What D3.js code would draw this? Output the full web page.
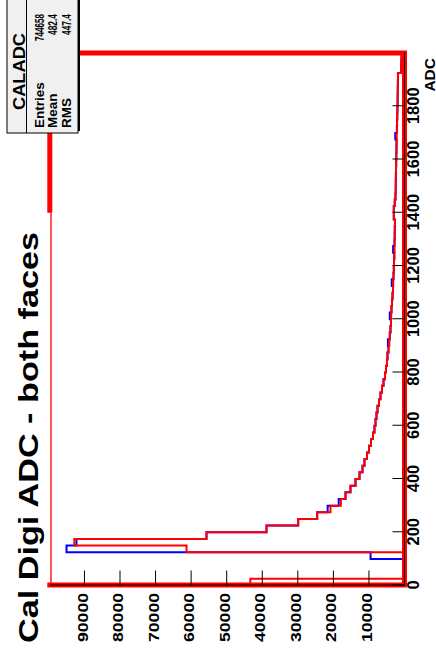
<!DOCTYPE html>
<html>
<head>
<meta charset="utf-8">
<script src="https://cdn.jsdelivr.net/npm/d3@7"></script>
<style>
body{margin:0;background:#fff;}
svg text{font-family:"Liberation Sans",Arial,Helvetica,sans-serif;font-weight:bold;fill:#000;}
</style>
</head>
<body>
<div id="chart"></div>
<script>
// ROOT canvas, drawn landscape and turned 90deg (like the printout)
const W = 436, H = 657;

// bins of 25 ADC, 0..2000
const adcBinLow = [0,25,50,75,100,125,150,175,200,225,250,275,300,325,350,375,400,425,450,475,
  500,525,550,575,600,625,650,675,700,725,750,775,800,825,850,875,900,925,950,975,
  1000,1025,1050,1075,1100,1125,1150,1175,1200,1225,1250,1275,1300,1325,1350,1375,1400,1425,1450,1475,
  1500,1525,1550,1575,1600,1625,1650,1675,1700,1725,1750,1775,1800,1825,1850,1875,1900,1925,1950,1975];
const binWidth = 25;

// red histo (drawn on top)
const countsRed = [43200,0,0,0,0,61160,92700,55540,38670,29750,
  24410,20670,17760,16450,15050,13640,12510,11670,11110,10400,
  9840,9280,8720,8300,8010,7730,7450,7030,6610,6190,
  5760,5340,5060,4780,4640,4360,4130,3990,3800,3660,
  3600,3520,3370,3230,3090,3040,2950,2870,2810,2730,
  2670,2670,2620,2590,2530,2870,2870,2600,2390,2330,
  2310,2280,2250,2200,2160,2120,2100,2060,2000,1950,
  1900,1850,1800,1780,1750,1720,1700,800,750,700];
// blue histo (mostly hidden under the red one)
const countsBlue = [0,0,0,0,9400,94900,92100,55540,38670,29750,
  24410,21470,18360,16450,15050,13640,12510,11670,11110,10400,
  9840,9280,8720,8300,8010,7730,7450,7030,6610,6190,
  5760,5340,5060,4780,4640,4360,4530,3990,3800,3660,
  4000,3520,3370,3230,3090,3440,2950,2870,2810,2730,
  3070,2670,2620,2590,2530,2870,2870,2600,2390,2330,
  2310,2280,2250,2200,2160,2120,2100,2460,2000,1950,
  1900,1850,1800,1780,1750,1720,1700,800,750,700];

const adcTickLabels = [0,200,400,600,800,1000,1200,1400,1600,1800];
const countTickLabels = [0,10000,20000,30000,40000,50000,60000,70000,80000,90000];

const titleText = 'Cal Digi ADC - both faces';
const statName = 'CALADC';
const statLabels = ['Entries','Mean','RMS'];
const statValues = ['744658','482.4','447.4'];

const svg = d3.select('#chart').append('svg')
  .attr('width', W).attr('height', H);

// everything below is in the un-rotated canvas: u = ADC direction, v = counts direction (down)
const canvas = svg.append('g')
  .attr('transform', `translate(0,${H}) rotate(-90)`);

const frame = {l:71.5, r:604, t:49.8, b:404};

const x = d3.scaleLinear().domain([0,2000]).range([frame.l, frame.r]);
const y = d3.scaleLinear().domain([0,99600]).range([frame.b, frame.t]);

canvas.append('clipPath').attr('id','frameClip')
  .append('rect')
  .attr('x', frame.l).attr('y', frame.t)
  .attr('width', frame.r-frame.l).attr('height', frame.b-frame.t);

function histPoints(counts){
  const pts = [[adcBinLow[0], 0]];
  counts.forEach(function(c, i){
    pts.push([adcBinLow[i], c]);
    pts.push([adcBinLow[i]+binWidth, c]);
  });
  pts.push([adcBinLow[adcBinLow.length-1]+binWidth, 0]);
  return pts;
}

const line = d3.line()
  .x(function(d){ return x(d[0]); })
  .y(function(d){ return y(d[1]); });

const plot = canvas.append('g').attr('clip-path','url(#frameClip)');

plot.append('path')
  .datum(histPoints(countsBlue))
  .attr('d', line)
  .attr('fill','none')
  .attr('stroke','#0000ff')
  .attr('stroke-width',2);

plot.append('path')
  .datum(histPoints(countsRed))
  .attr('d', line)
  .attr('fill','none')
  .attr('stroke','#ff0000')
  .attr('stroke-width',2);

// red frame (thin along the top of the counts range, thick elsewhere)
const uBreak = x(1400);
canvas.append('path')
  .attr('d', `M${frame.l},${frame.t+1.2} L${uBreak},${frame.t+1.2}`)
  .attr('fill','none').attr('stroke','#ff2020').attr('stroke-width',1.5);
canvas.append('path')
  .attr('d', `M${uBreak},${frame.t} L${frame.r},${frame.t} L${frame.r},${frame.b+0.5} L${frame.l+0.5},${frame.b+0.5} L${frame.l+0.5},${frame.t-2.5}`)
  .attr('fill','none').attr('stroke','#ff0000').attr('stroke-width',5)
  .attr('stroke-linejoin','miter');

// ADC axis
const xAxisG = canvas.append('g').attr('transform', `translate(0,${frame.b})`);
xAxisG.call(d3.axisBottom(x)
  .tickValues(d3.range(0, 2001, 50))
  .tickSizeInner(-6.5).tickSizeOuter(0)
  .tickFormat(''));
xAxisG.call(d3.axisBottom(x)
  .tickValues(adcTickLabels)
  .tickSizeInner(-11.5).tickSizeOuter(0)
  .tickPadding(3)
  .tickFormat(d3.format('d')));
xAxisG.selectAll('text').style('font-size','16.5px');

// counts axis
const yAxisG = canvas.append('g').attr('transform', `translate(${frame.l},0)`);
yAxisG.call(d3.axisLeft(y)
  .tickValues(d3.range(0, 99000, 2000))
  .tickSizeInner(-7.5).tickSizeOuter(0)
  .tickFormat(''));
yAxisG.call(d3.axisLeft(y)
  .tickValues(countTickLabels)
  .tickSizeInner(-15).tickSizeOuter(0)
  .tickPadding(7.5)
  .tickFormat(function(d){ return d === 0 ? '' : d3.format('d')(d); }));
yAxisG.selectAll('text')
  .style('font-size','15.5px')
  .attr('dy','0.2em')
  .attr('textLength', function(){ return this.textContent ? 49 : null; })
  .attr('lengthAdjust','spacingAndGlyphs');

canvas.selectAll('.domain').attr('stroke','#000').attr('stroke-width',1);
canvas.selectAll('.tick line').attr('stroke','#000').attr('stroke-width',1);

// axis title
canvas.append('text')
  .attr('x', 599).attr('y', 434.5)
  .attr('text-anchor','end')
  .style('font-size','15.5px')
  .text('ADC');

// main title
canvas.append('text')
  .attr('x', 14).attr('y', 38)
  .style('font-size','28px')
  .attr('textLength', 411).attr('lengthAdjust','spacingAndGlyphs')
  .text(titleText);

// stat box
const box = {u0:524, u1:660, v0:7, v1:78};
canvas.append('rect')
  .attr('x', box.u0+2).attr('y', box.v0+2)
  .attr('width', box.u1-box.u0).attr('height', box.v1-box.v0)
  .attr('fill','#000');
canvas.append('rect')
  .attr('x', box.u0).attr('y', box.v0)
  .attr('width', box.u1-box.u0).attr('height', box.v1-box.v0)
  .attr('fill','#f0f0f0').attr('stroke','#000').attr('stroke-width',1);
canvas.append('line')
  .attr('x1', box.u0).attr('x2', box.u1)
  .attr('y1', 26.5).attr('y2', 26.5)
  .attr('stroke','#000');
canvas.append('text')
  .attr('x', 585.5).attr('y', 24.5)
  .attr('text-anchor','middle')
  .style('font-size','17px')
  .attr('textLength', 77).attr('lengthAdjust','spacingAndGlyphs')
  .text(statName);

const rowBase = [44, 57, 70.5];
const valueLen = [27, 21, 21];
canvas.selectAll('.statLabel').data(statLabels).enter()
  .append('text').attr('class','statLabel')
  .attr('x', 529).attr('y', function(d,i){ return rowBase[i]; })
  .style('font-size','13.5px')
  .text(function(d){ return d; });
canvas.selectAll('.statValue').data(statValues).enter()
  .append('text').attr('class','statValue')
  .attr('x', 643).attr('y', function(d,i){ return rowBase[i]; })
  .attr('text-anchor','end')
  .style('font-size','13.5px')
  .attr('textLength', function(d,i){ return valueLen[i]; })
  .attr('lengthAdjust','spacingAndGlyphs')
  .text(function(d){ return d; });
</script>
</body>
</html>
